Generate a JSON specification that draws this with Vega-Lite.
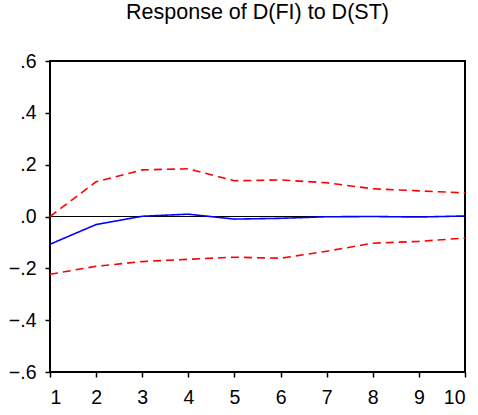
{
  "$schema": "https://vega.github.io/schema/vega-lite/v6.json",
  "width": 415,
  "height": 311,
  "autosize": {"type": "none"},
  "padding": {"left": 50, "top": 61, "right": 13, "bottom": 43},
  "background": "white",
  "title": {"text": "Response of D(FI) to D(ST)", "font": "Liberation Sans", "fontSize": 21.5, "fontWeight": "normal", "color": "black", "anchor": "middle", "offset": 28},
  "config": {
    "view": {"stroke": "black", "strokeWidth": 2},
    "axis": {"grid": false, "domain": false, "tickColor": "black", "tickSize": 5, "tickWidth": 1.5, "labelFont": "Liberation Sans", "labelFontSize": 19.5, "labelColor": "black", "title": null}
  },
  "data": {"values": [
    {"step": 1, "series": "resp", "value": -0.107},
    {"step": 2, "series": "resp", "value": -0.031},
    {"step": 3, "series": "resp", "value": 0.001},
    {"step": 4, "series": "resp", "value": 0.009},
    {"step": 5, "series": "resp", "value": -0.01},
    {"step": 6, "series": "resp", "value": -0.007},
    {"step": 7, "series": "resp", "value": -0.001},
    {"step": 8, "series": "resp", "value": 0.0},
    {"step": 9, "series": "resp", "value": -0.002},
    {"step": 10, "series": "resp", "value": 0.002},
    {"step": 1, "series": "upper", "value": 0.0},
    {"step": 2, "series": "upper", "value": 0.134},
    {"step": 3, "series": "upper", "value": 0.18},
    {"step": 4, "series": "upper", "value": 0.184},
    {"step": 5, "series": "upper", "value": 0.138},
    {"step": 6, "series": "upper", "value": 0.141},
    {"step": 7, "series": "upper", "value": 0.13},
    {"step": 8, "series": "upper", "value": 0.107},
    {"step": 9, "series": "upper", "value": 0.099},
    {"step": 10, "series": "upper", "value": 0.091},
    {"step": 1, "series": "lower", "value": -0.223},
    {"step": 2, "series": "lower", "value": -0.192},
    {"step": 3, "series": "lower", "value": -0.174},
    {"step": 4, "series": "lower", "value": -0.165},
    {"step": 5, "series": "lower", "value": -0.157},
    {"step": 6, "series": "lower", "value": -0.161},
    {"step": 7, "series": "lower", "value": -0.134},
    {"step": 8, "series": "lower", "value": -0.103},
    {"step": 9, "series": "lower", "value": -0.096},
    {"step": 10, "series": "lower", "value": -0.083}
  ]},
  "layer": [
    {
      "data": {"values": [{"zero": 0}]},
      "mark": {"type": "rule", "color": "black", "strokeWidth": 1},
      "encoding": {"y": {"field": "zero", "type": "quantitative", "scale": {"domain": [-0.6, 0.6]}}}
    },
    {
      "mark": {"type": "line", "strokeWidth": 1.6},
      "encoding": {
        "x": {"field": "step", "type": "quantitative", "scale": {"domain": [1, 10], "nice": false}, "axis": {"values": [1,2,3,4,5,6,7,8,9,10], "labelPadding": 11}},
        "y": {"field": "value", "type": "quantitative", "scale": {"domain": [-0.6, 0.6], "nice": false}, "axis": {"values": [-0.6,-0.4,-0.2,0,0.2,0.4,0.6], "labelExpr": "replace(format(datum.value, '.1f'), '0.', '.')", "labelPadding": 9}},
        "detail": {"field": "series"},
        "color": {"field": "series", "type": "nominal", "scale": {"domain": ["resp", "upper", "lower"], "range": ["#0000ff", "#ff0000", "#ff0000"]}, "legend": null},
        "strokeDash": {"field": "series", "type": "nominal", "scale": {"domain": ["resp", "upper", "lower"], "range": [[1, 0], [8, 5], [8, 5]]}, "legend": null}
      }
    }
  ]
}
